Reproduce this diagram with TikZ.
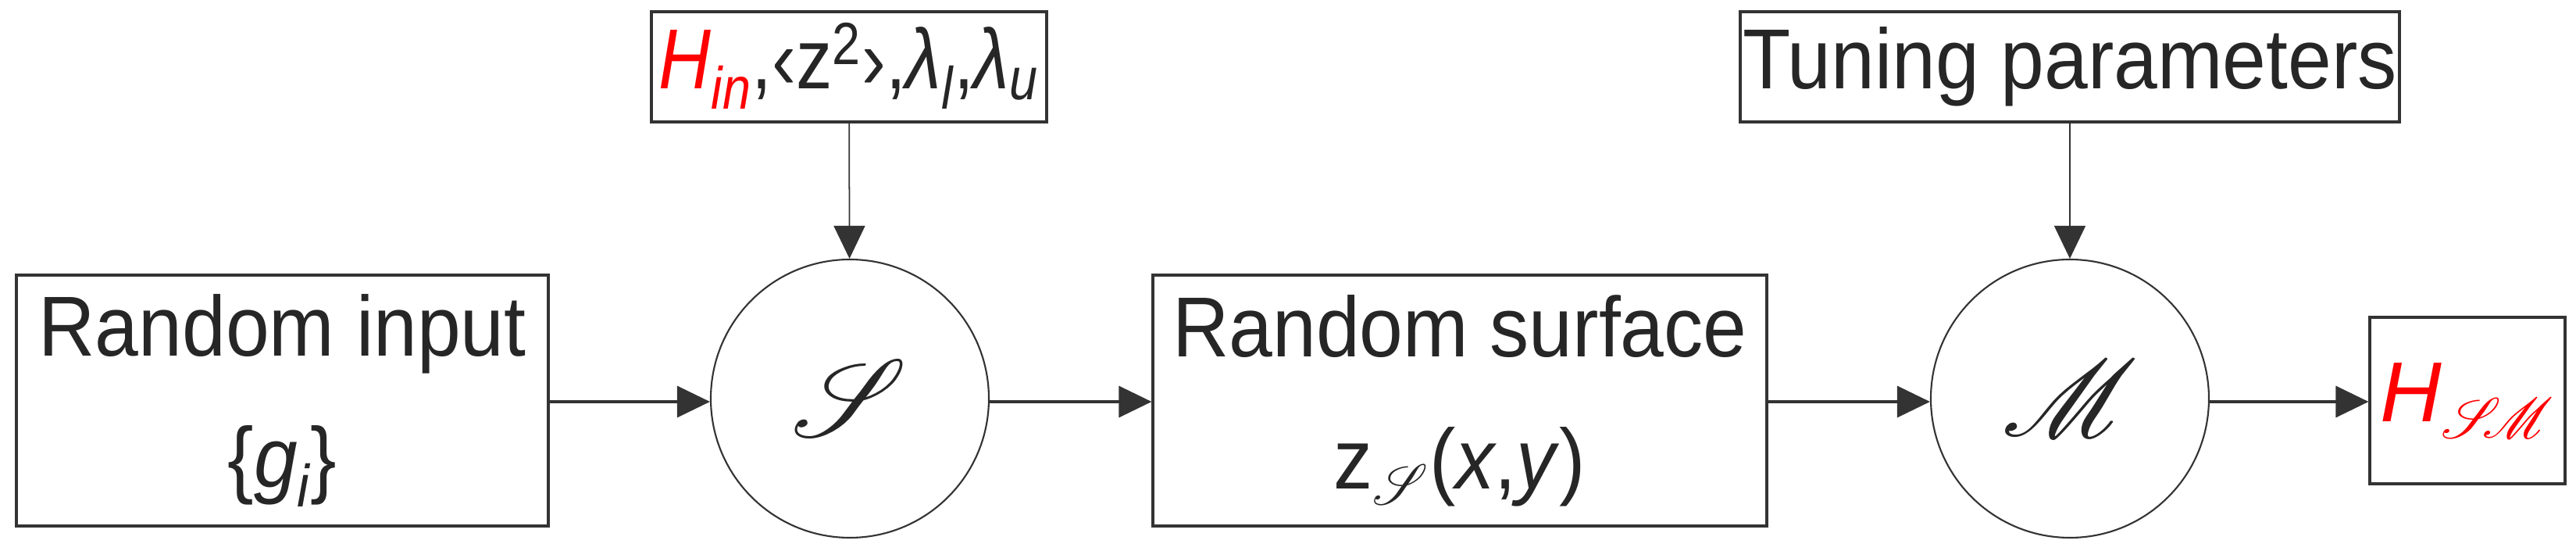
\documentclass[tikz,border=0pt]{standalone}
\usepackage{fontspec}
\usepackage{mathrsfs}
\setmainfont{Liberation Sans}
\usetikzlibrary{arrows.meta}
\newcommand{\lo}[1]{\textsubscript{\itshape #1}}
\begin{document}
\begin{tikzpicture}[x=1cm,y=1cm,
  box/.style={draw=black!80,line width=0.9pt,inner sep=0pt},
  circ/.style={draw=black!80,line width=0.6pt,circle,minimum size=3.56cm,inner sep=0pt},
  txt/.style={font=\fontsize{31}{38}\selectfont,text=black!85},
  arr/.style={draw=black!80,line width=0.9pt,-{Triangle[length=0.42cm,width=0.4cm]}},
  arrt/.style={draw=black!80,line width=0.5pt,-{Triangle[length=0.42cm,width=0.4cm]}}]
\useasboundingbox (0,0) rectangle (32.98,7.04);
\node[box,minimum width=6.81cm,minimum height=3.21cm] (ri) at (3.615,1.915) {};
\node[txt,align=center] at (ri) {\scalebox{0.92}[1]{Random input}\\[10pt]\scalebox{0.92}[1]{\{\textit{g}\lo{i}\}}};
\node[circ] (S) at (10.88,1.94) {};
\node[txt] at (S) {\scalebox{1.6}{$\mathscr{S}$}};
\node[box,minimum width=5.06cm,minimum height=1.41cm] (hp) at (10.87,6.185) {};
\node[txt] at (10.87,6.2) {\scalebox{0.85}[1]{\textcolor{red}{\textit{H}\lo{in}},‹z\textsuperscript{2}›,\textit{λ}\lo{l},\textit{λ}\lo{u}}};
\node[box,minimum width=7.86cm,minimum height=3.21cm] (rs) at (18.69,1.915) {};
\node[txt,align=center] at (rs) {\scalebox{0.92}[1]{Random surface}\\[10pt]\scalebox{0.92}[1]{z\textsubscript{$\mathscr S$}(\textit{x},\textit{y})}};
\node[circ] (M) at (26.5,1.94) {};
\node[txt] at (M) {\scalebox{1.6}{$\mathscr{M}$}};
\node[box,minimum width=8.44cm,minimum height=1.41cm] (tp) at (26.5,6.185) {};
\node[txt] at (tp) {\scalebox{0.92}[1]{Tuning parameters}};
\node[box,minimum width=2.5cm,minimum height=2.13cm] (H) at (31.59,1.915) {};
\node[txt] at (H) {\textcolor{red}{\textit{H}\textsubscript{$\mathscr{S}\!\!\mathscr{M}$}}};
\draw[arr] (ri.east |- 0,1.9) -- (S.west |- 0,1.9);
\draw[arr] (S.east |- 0,1.9) -- (rs.west |- 0,1.9);
\draw[arr] (rs.east |- 0,1.9) -- (M.west |- 0,1.9);
\draw[arr] (M.east |- 0,1.9) -- (H.west |- 0,1.9);
\draw[arrt] (hp) -- (S);
\draw[arrt] (tp) -- (M);
\end{tikzpicture}
\end{document}
